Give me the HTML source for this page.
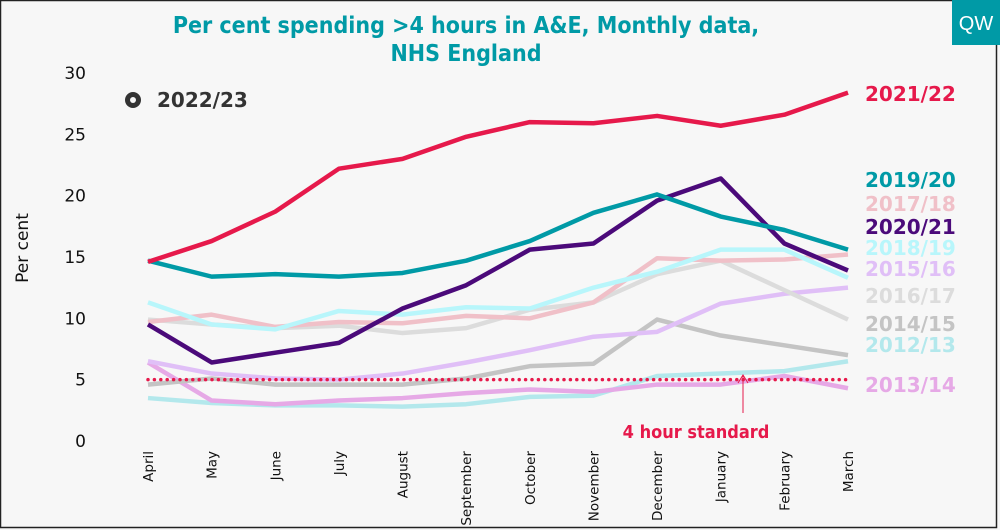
<!DOCTYPE html>
<html><head><meta charset="utf-8"><style>
html,body{margin:0;padding:0;background:#f7f7f7;}
svg{display:block;}
</style></head><body>
<svg id="chart" width="1000" height="530" xmlns="http://www.w3.org/2000/svg" font-family="'DejaVu Sans', 'Liberation Sans', sans-serif">
<rect x="0" y="0" width="1000" height="530" fill="#f7f7f7"/>
<rect x="0.5" y="0.5" width="996" height="527" fill="none" stroke="#222" stroke-width="1.5"/>
<rect x="952" y="0" width="48" height="45" fill="#009aa6"/>
<text x="976" y="30" font-size="20" fill="#fff" text-anchor="middle" font-family="'Liberation Sans', sans-serif">QW</text>
<text x="466" y="33" font-size="23" font-weight="bold" fill="#009aa6" text-anchor="middle" style="font-family:'DejaVu Sans Condensed','DejaVu Sans',sans-serif">Per cent spending &gt;4 hours in A&amp;E, Monthly data,</text>
<text x="466" y="61" font-size="23" font-weight="bold" fill="#009aa6" text-anchor="middle" style="font-family:'DejaVu Sans Condensed','DejaVu Sans',sans-serif">NHS England</text>
<text x="28" y="248" font-size="17" fill="#111" text-anchor="middle" transform="rotate(-90 28 248)">Per cent</text>
<circle cx="133" cy="100" r="8" fill="#333"/>
<circle cx="133" cy="100" r="3" fill="#f7f7f7"/>
<text x="157" y="107" font-size="20" font-weight="bold" fill="#333">2022/23</text>
<g id="axes"></g>
<g id="lines"></g>
<g id="labels"></g>
<line x1="743" y1="375" x2="743" y2="413" stroke="#e6194b" stroke-width="1"/>
<path d="M738 383 L743 375 L748 383" fill="none" stroke="#e6194b" stroke-width="1"/>
<text x="696" y="438" font-size="18" font-weight="bold" fill="#e6194b" text-anchor="middle" style="font-family:'DejaVu Sans Condensed','DejaVu Sans',sans-serif">4 hour standard</text>
</svg>
<script>
const months=["April","May","June","July","August","September","October","November","December","January","February","March"];
const yTicks=[0,5,10,15,20,25,30];
const s1213=[3.5,3.1,2.9,2.9,2.8,3.0,3.6,3.7,5.3,5.5,5.7,6.5];
const s1314=[6.4,3.3,3.0,3.3,3.5,3.9,4.2,4.0,4.6,4.6,5.3,4.3];
const s1415=[4.6,5.1,4.6,4.6,4.6,5.1,6.1,6.3,9.9,8.6,7.8,7.0];
const s1516=[6.5,5.5,5.1,5.0,5.5,6.4,7.4,8.5,8.9,11.2,12.0,12.5];
const s1617=[9.9,9.5,9.2,9.4,8.8,9.2,10.7,11.3,13.6,14.7,12.3,9.9];
const s1718=[9.7,10.3,9.3,9.7,9.6,10.2,10.0,11.3,14.9,14.7,14.8,15.2];
const s1819=[11.3,9.5,9.1,10.6,10.3,10.9,10.8,12.5,13.8,15.6,15.6,13.3];
const s1920=[14.7,13.4,13.6,13.4,13.7,14.7,16.3,18.6,20.1,18.3,17.2,15.6];
const s2021=[9.5,6.4,7.2,8.0,10.8,12.7,15.6,16.1,19.6,21.4,16.1,13.9];
const s2122=[14.6,16.3,18.7,22.2,23.0,24.8,26.0,25.9,26.5,25.7,26.6,28.4];
const standard=[5,5,5,5,5,5,5,5,5,5,5,5];
const NS="http://www.w3.org/2000/svg";
const x=i=>148+i*(700/11);
const y=v=>441-v*(368/30);
const axes=document.getElementById('axes');
yTicks.forEach(t=>{
 const e=document.createElementNS(NS,'text');
 e.setAttribute('x',86);e.setAttribute('y',y(t)+6);e.setAttribute('font-size',17);e.setAttribute('text-anchor','end');e.setAttribute('fill','#111');
 
 
 e.textContent=t;axes.appendChild(e);
});
months.forEach((m,i)=>{
 const e=document.createElementNS(NS,'text');
 const xx=x(i)+5,yy=451;
 e.setAttribute('x',xx);e.setAttribute('y',yy);e.setAttribute('font-size',13.5);e.setAttribute('text-anchor','end');e.setAttribute('fill','#111');
 e.setAttribute('transform','rotate(-90 '+xx+' '+yy+')');
 
 
 e.textContent=m;axes.appendChild(e);
});
const series=[
 [s1213,'#b3e8ec','2012/13',352],
 [s1314,'#e6a9e6','2013/14',392],
 [s1415,'#c4c4c4','2014/15',331],
 [s1516,'#e0bff7','2015/16',276],
 [s1617,'#dcdcdc','2016/17',303],
 [s1718,'#f0c0c8','2017/18',211],
 [s1819,'#b8f6fb','2018/19',255],
 [s2021,'#4b0a7a','2020/21',234],
 [s1920,'#009aa6','2019/20',187],
 [s2122,'#e6194b','2021/22',101]
];
const lines=document.getElementById('lines'),labels=document.getElementById('labels');
series.forEach(s=>{
 const p=document.createElementNS(NS,'polyline');
 p.setAttribute('points',s[0].map((v,i)=>x(i)+','+y(v)).join(' '));
 p.setAttribute('fill','none');p.setAttribute('stroke',s[1]);p.setAttribute('stroke-width',4.5);p.setAttribute('stroke-linejoin','round');
 
 
 lines.appendChild(p);
 const t=document.createElementNS(NS,'text');
 t.setAttribute('x',865);t.setAttribute('y',s[3]);t.setAttribute('font-size',20);t.setAttribute('font-weight','bold');t.setAttribute('fill',s[1]);
 
 
 t.textContent=s[2];labels.appendChild(t);
});
const sp=document.createElementNS(NS,'polyline');
sp.setAttribute('points',standard.map((v,i)=>x(i)+','+y(v)).join(' '));
sp.setAttribute('fill','none');sp.setAttribute('stroke','#e6194b');sp.setAttribute('stroke-width',3.5);sp.setAttribute('stroke-dasharray','0 6.4');sp.setAttribute('stroke-linecap','round');


lines.appendChild(sp);
</script>
</body></html>
